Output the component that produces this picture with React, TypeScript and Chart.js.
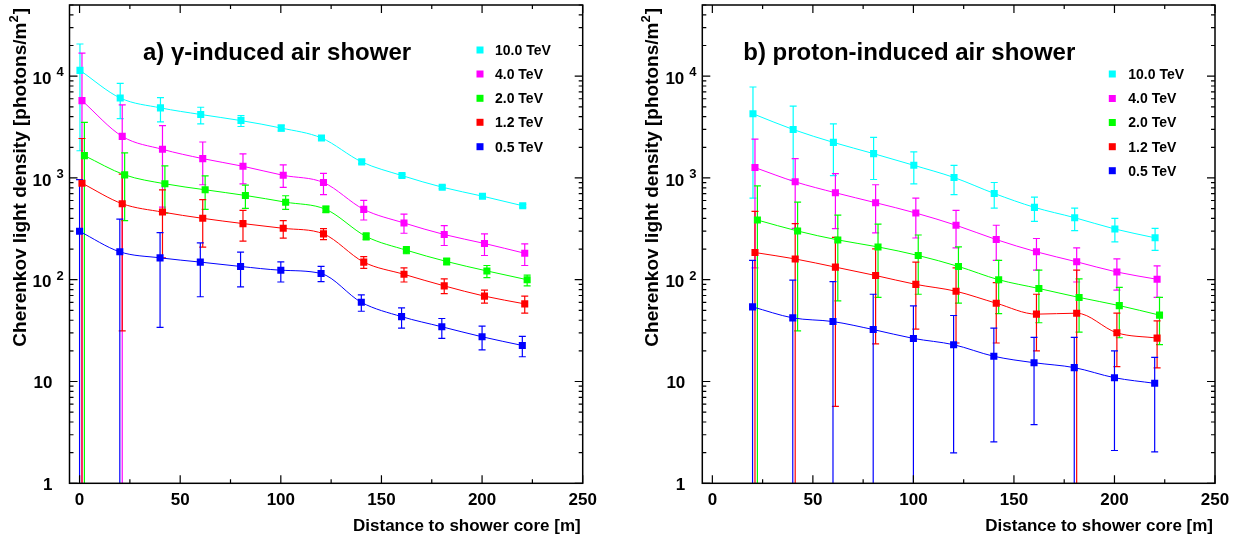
import React, { useEffect, useRef } from "react";
import { Chart, registerables } from "chart.js";

Chart.register(...registerables);

const FONT = "'Liberation Sans', Arial, Helvetica, sans-serif";

// ---------- shared ----------
const seriesLabels = ["10.0 TeV", "4.0 TeV", "2.0 TeV", "1.2 TeV", "0.5 TeV"];
const seriesColors = ["#00ffff", "#ff00ff", "#00ff00", "#ff0000", "#0000ff"];
const seriesXShift = [0.2, 1.2, 2.4, 1.2, 0];
const xTickLabels = [0, 50, 100, 150, 200, 250];
const yTickLabels = [1, 10, 100, 1000, 10000];

// ---------- a) gamma-induced ----------
const gammaDistance = [0, 20, 40, 60, 80, 100, 120, 140, 160, 180, 200, 220];

const gamma10 = [11400, 6100, 4880, 4200, 3660, 3090, 2470, 1437, 1055, 811, 662, 533];
const gamma10Hi = [20700, 8500, 6150, 4950, 4100, 3300, 2560, 1490, 1090, 840, 685, 550];
const gamma10Lo = [1850, 3830, 3560, 3400, 3200, 2880, 2380, 1385, 1020, 785, 640, 515];

const gamma4 = [5750, 2560, 1910, 1548, 1302, 1061, 901, 491, 361, 278, 227, 182];
const gamma4Hi = [16800, 5210, 3270, 2255, 1720, 1343, 1111, 601, 442, 340, 282, 225];
const gamma4Lo = [0, 0, 517, 857, 876, 806, 684, 386, 286, 217, 173, 138];

const gamma2 = [1656, 1072, 876, 765, 673, 578, 491, 266, 195, 151, 122, 100];
const gamma2Hi = [3510, 1760, 1313, 1048, 849, 668, 530, 288, 211, 163, 138, 111];
const gamma2Lo = [0, 381, 452, 491, 502, 491, 455, 246, 180, 140, 105, 87];

const gamma12 = [888, 558, 462, 401, 356, 320, 282, 149, 113, 87, 69, 57.9];
const gamma12Hi = [2440, 1090, 765, 611, 480, 381, 318, 169, 131, 102, 79, 69];
const gamma12Lo = [0, 31.5, 164, 209, 239, 256, 248, 129, 95, 73, 59, 47];

const gamma05 = [299, 188, 164, 149, 135, 124, 115, 60, 43.4, 34.5, 27.5, 22.6];
const gamma05Hi = [964, 394, 290, 230, 187, 150, 135, 71, 52.8, 41.6, 35, 27.7];
const gamma05Lo = [0, 0, 34, 68, 85, 95, 96, 49, 33.5, 26.5, 20.5, 17.5];

// ---------- b) proton-induced ----------
const protonDistance = [20, 40, 60, 80, 100, 120, 140, 160, 180, 200, 220];

const proton10 = [4270, 2990, 2234, 1733, 1331, 1010, 704, 514, 407, 315, 258];
const proton10Hi = [7820, 5070, 3400, 2500, 1800, 1331, 902, 648, 506, 401, 320];
const proton10Lo = [634, 950, 1055, 965, 876, 684, 506, 375, 304, 235, 194];

const proton4 = [1264, 916, 715, 571, 452, 343, 248, 188, 150, 119, 101];
const proton4Hi = [2410, 1548, 1104, 857, 634, 480, 343, 254, 206, 160, 137];
const proton4Lo = [131, 320, 318, 288, 257, 206, 155, 124, 95, 79, 67];

const proton2 = [386, 301, 246, 210, 173, 135, 100, 82, 67, 55.7, 44.9];
const proton2Hi = [837, 578, 432, 352, 275, 210, 155, 124, 102, 84, 67];
const proton2Lo = [0, 31.5, 62, 67, 72, 59, 46.5, 37.8, 30.6, 26.9, 23];

const proton12 = [185, 160, 133, 110, 90, 77, 58.8, 45.9, 46.9, 30.1, 26.7];
const proton12Hi = [469, 356, 261, 201, 149, 131, 93.5, 72, 124, 47, 39.5];
const proton12Lo = [0, 0, 5.7, 23.4, 32.7, 23.9, 23.9, 20, 0, 14, 13.6];

const proton05 = [54.1, 42.2, 38.8, 32.4, 26.5, 23, 17.7, 15.3, 13.7, 10.9, 9.6];
const proton05Hi = [155, 99.3, 95.6, 72, 55.3, 44.5, 33.5, 27.1, 27.1, 20, 17.3];
const proton05Lo = [0, 0, 0, 0, 0, 1.99, 2.55, 3.77, 0, 2.1, 2.04];

function makeDatasets(distance: number[], vals: number[][], his: number[][], los: number[][]) {
  return seriesLabels.map((label, s) => ({
    label,
    data: distance.map((d, i) => ({ x: d + seriesXShift[s], y: vals[s][i] })),
    errHi: his[s],
    errLo: los[s],
    borderColor: seriesColors[s],
    backgroundColor: seriesColors[s],
    borderWidth: 1,
    pointStyle: "rect",
    pointRadius: 5,
    pointBorderWidth: 0,
    pointBackgroundColor: seriesColors[s],
    cubicInterpolationMode: "monotone",
    fill: false,
  }));
}

const panelPlugin = {
  id: "panel",
  beforeDatasetsDraw(chart: any) {
    const { ctx, chartArea: a, scales } = chart;
    const x = scales.x;
    const y = scales.y;
    ctx.save();
    ctx.beginPath();
    ctx.rect(a.left, a.top, a.right - a.left, a.bottom - a.top);
    ctx.clip();
    ctx.lineWidth = 1.2;
    chart.data.datasets.forEach((ds: any) => {
      ctx.strokeStyle = ds.borderColor;
      ds.data.forEach((p: any, i: number) => {
        const px = x.getPixelForValue(p.x);
        const yTop = y.getPixelForValue(ds.errHi[i]);
        const lo = ds.errLo[i];
        const yBot = lo > 0 ? y.getPixelForValue(lo) : a.bottom + 3;
        ctx.beginPath();
        ctx.moveTo(px, yTop);
        ctx.lineTo(px, yBot);
        ctx.moveTo(px - 3.5, yTop);
        ctx.lineTo(px + 3.5, yTop);
        if (lo > 0) {
          ctx.moveTo(px - 3.5, yBot);
          ctx.lineTo(px + 3.5, yBot);
        }
        ctx.stroke();
      });
    });
    ctx.restore();
  },
  afterDraw(chart: any, _args: any, opts: any) {
    const { ctx, chartArea: a, scales } = chart;
    const x = scales.x;
    const y = scales.y;
    ctx.save();
    // frame
    ctx.strokeStyle = "#000";
    ctx.lineWidth = 1.5;
    ctx.strokeRect(a.left, a.top, a.right - a.left, a.bottom - a.top);
    // x ticks (inside, top and bottom)
    ctx.lineWidth = 1.2;
    ctx.beginPath();
    for (let v = 0; v <= 250; v += 25) {
      const px = x.getPixelForValue(v);
      const len = v % 50 === 0 ? 8 : 4;
      ctx.moveTo(px, a.bottom);
      ctx.lineTo(px, a.bottom - len);
      ctx.moveTo(px, a.top);
      ctx.lineTo(px, a.top + len);
    }
    // y ticks (log)
    for (let e = 0; e <= 4; e++) {
      for (let k = 1; k <= 9; k++) {
        const v = k * Math.pow(10, e);
        if (v > 50000) break;
        const py = y.getPixelForValue(v);
        const len = k === 1 ? 8 : 4;
        ctx.moveTo(a.left, py);
        ctx.lineTo(a.left + len, py);
        ctx.moveTo(a.right, py);
        ctx.lineTo(a.right - len, py);
      }
    }
    ctx.stroke();

    ctx.fillStyle = "#000";
    // x labels
    ctx.font = `bold 17px ${FONT}`;
    ctx.textAlign = "center";
    ctx.textBaseline = "alphabetic";
    xTickLabels.forEach((v) => {
      ctx.fillText(String(v), x.getPixelForValue(v), 505);
    });
    // y labels
    yTickLabels.forEach((v) => {
      const py = y.getPixelForValue(v);
      const e = Math.round(Math.log10(v));
      if (e < 2) {
        ctx.font = `bold 17px ${FONT}`;
        ctx.textAlign = "right";
        ctx.textBaseline = "alphabetic";
        ctx.fillText(String(v), a.left - 17, py + 6.5);
      } else {
        ctx.font = `bold 17px ${FONT}`;
        ctx.textAlign = "right";
        ctx.textBaseline = "alphabetic";
        ctx.fillText("10", a.left - 18, py + 7.7);
        ctx.font = `bold 13px ${FONT}`;
        ctx.textAlign = "left";
        ctx.fillText(String(e), a.left - 13, py);
      }
    });
    // x title
    ctx.font = `bold 17px ${FONT}`;
    ctx.textAlign = "right";
    ctx.textBaseline = "alphabetic";
    ctx.fillText("Distance to shower core [m]", a.right - 2, 531);

    // y title (rotated)
    ctx.save();
    ctx.translate(a.left - 44, 0);
    ctx.rotate(-Math.PI / 2);
    ctx.textAlign = "left";
    ctx.textBaseline = "alphabetic";
    const main = "Cherenkov light density [photons/m";
    ctx.font = `bold 19px ${FONT}`;
    const wMain = ctx.measureText(main).width;
    const wClose = ctx.measureText("]").width;
    ctx.font = `bold 13px ${FONT}`;
    const wSup = ctx.measureText("2").width;
    const endU = -(a.top + 3);
    let u = endU - (wMain + wSup + wClose + 1);
    ctx.font = `bold 19px ${FONT}`;
    ctx.fillText(main, u, 0);
    u += wMain;
    ctx.font = `bold 13px ${FONT}`;
    ctx.fillText("2", u, -8);
    u += wSup + 1;
    ctx.font = `bold 19px ${FONT}`;
    ctx.fillText("]", u, 0);
    ctx.restore();

    // panel title
    ctx.font = `bold 24px ${FONT}`;
    ctx.textAlign = "left";
    ctx.textBaseline = "alphabetic";
    ctx.fillText(opts.title, opts.titleX, 60);

    // legend
    ctx.font = `bold 14px ${FONT}`;
    ctx.textBaseline = "middle";
    seriesLabels.forEach((lab, s) => {
      const ry = opts.legendY[s];
      ctx.fillStyle = seriesColors[s];
      ctx.fillRect(opts.legendSquareX - 3.5, ry - 3.5, 7, 7);
      ctx.fillStyle = "#000";
      ctx.fillText(lab, opts.legendTextX, ry + 1);
    });
    ctx.restore();
  },
};

type PanelProps = {
  left: number;
  width: number;
  plotLeft: number;
  plotRight: number;
  datasets: any[];
  title: string;
  titleX: number;
  legendSquareX: number;
  legendTextX: number;
  legendY: number[];
};

function Panel(props: PanelProps) {
  const ref = useRef<HTMLCanvasElement>(null);
  useEffect(() => {
    if (!ref.current) return;
    const H = 540;
    const plotTop = 2;
    const plotBottom = 483.3;
    const chart = new Chart(ref.current, {
      type: "line",
      data: { datasets: props.datasets as any },
      plugins: [panelPlugin as any],
      options: {
        animation: false,
        responsive: false,
        devicePixelRatio: 1,
        layout: {
          padding: { top: plotTop, left: 0, right: props.width - props.plotRight, bottom: 0 },
        },
        scales: {
          x: {
            type: "linear",
            min: -5,
            max: 250,
            grid: { display: false },
            border: { display: false },
            ticks: { display: false },
            afterFit: (s: any) => {
              s.height = H - plotBottom;
            },
          },
          y: {
            type: "logarithmic",
            min: 1,
            max: 50000,
            grid: { display: false },
            border: { display: false },
            ticks: { display: false },
            afterFit: (s: any) => {
              s.width = props.plotLeft;
            },
          },
        },
        plugins: {
          legend: { display: false },
          tooltip: { enabled: false },
          title: { display: false },
          panel: {
            title: props.title,
            titleX: props.titleX,
            legendSquareX: props.legendSquareX,
            legendTextX: props.legendTextX,
            legendY: props.legendY,
          },
        } as any,
      },
    });
    return () => chart.destroy();
  }, []);
  return (
    <canvas
      ref={ref}
      width={props.width}
      height={540}
      style={{ position: "absolute", left: props.left, top: 0, width: props.width, height: 540 }}
    />
  );
}

export default function App() {
  const gammaSets = makeDatasets(
    gammaDistance,
    [gamma10, gamma4, gamma2, gamma12, gamma05],
    [gamma10Hi, gamma4Hi, gamma2Hi, gamma12Hi, gamma05Hi],
    [gamma10Lo, gamma4Lo, gamma2Lo, gamma12Lo, gamma05Lo]
  );
  const protonSets = makeDatasets(
    protonDistance,
    [proton10, proton4, proton2, proton12, proton05],
    [proton10Hi, proton4Hi, proton2Hi, proton12Hi, proton05Hi],
    [proton10Lo, proton4Lo, proton2Lo, proton12Lo, proton05Lo]
  );
  return (
    <div style={{ position: "absolute", left: 0, top: 0, width: 1252, height: 540, background: "#fff" }}>
      <Panel
        left={0}
        width={626}
        plotLeft={69.5}
        plotRight={582.7}
        datasets={gammaSets}
        title="a) γ-induced air shower"
        titleX={143}
        legendSquareX={480}
        legendTextX={495}
        legendY={[50, 74, 98.3, 122.3, 146.7]}
      />
      <Panel
        left={626}
        width={626}
        plotLeft={76.3}
        plotRight={589}
        datasets={protonSets}
        title="b) proton-induced air shower"
        titleX={117.3}
        legendSquareX={486.3}
        legendTextX={502.3}
        legendY={[74, 98.5, 122.5, 146.7, 170.7]}
      />
    </div>
  );
}
